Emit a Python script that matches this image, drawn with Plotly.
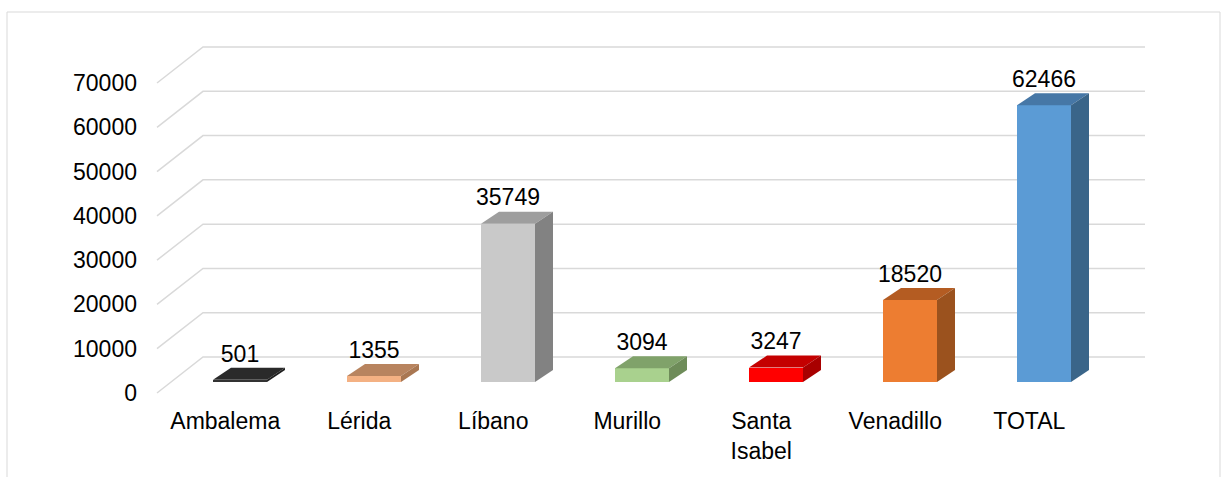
import plotly.graph_objects as go

# ---------------- data ----------------
categories = ["Ambalema", "Lérida", "Líbano", "Murillo", "Santa Isabel", "Venadillo", "TOTAL"]
tick_text = ["Ambalema", "Lérida", "Líbano", "Murillo", "Santa<br>Isabel", "Venadillo", "TOTAL"]
values = [501, 1355, 35749, 3094, 3247, 18520, 62466]
y_ticks = [0, 10000, 20000, 30000, 40000, 50000, 60000, 70000]

front_colors = ["#333333", "#F4B183", "#C9C9C9", "#A9D18E", "#FF0000", "#ED7D31", "#5B9BD5"]
top_colors = ["#2A2A2A", "#B8845F", "#9E9E9E", "#80A26A", "#C40000", "#B45C22", "#4677A6"]
side_colors = ["#1F1F1F", "#A97752", "#828282", "#6E8C59", "#A80000", "#9B521E", "#3A6589"]

# ---------------- geometry (oblique 3D projection, in axis units) ----------------
PX_PER_CAT = 134.0
PX_PER_VAL = 310.0 / 70000.0
BAR_W = 54 / PX_PER_CAT
BASE = 11 / PX_PER_VAL            # bar front face sits slightly back from the floor's front edge
DEPTH_X = 18 / PX_PER_CAT         # bar depth
DEPTH_Y = 12 / PX_PER_VAL
FLOOR_X0 = -83 / PX_PER_CAT       # front-left edge of the floor
FLOOR_DX = 46 / PX_PER_CAT        # floor depth
FLOOR_DY = 36 / PX_PER_VAL
WALL_X1 = 905 / PX_PER_CAT        # right end of back wall
LABEL_DY = 24 / PX_PER_VAL
CAT_LABEL_DX = -0.11

FONT = "Liberation Sans, Arial, sans-serif"
GRID = "#D9D9D9"

ML, MR, MT, MB = 146, 0, 0, 72
W, H = 1221, 477
plot_w = W - ML - MR
plot_h = H - MT - MB
x0 = -(240 - ML) / PX_PER_CAT
x1 = x0 + plot_w / PX_PER_CAT
y0 = -(405 - 393) / PX_PER_VAL
y1 = y0 + plot_h / PX_PER_VAL

fig = go.Figure()

# front faces
fig.add_trace(go.Bar(
    x=list(range(len(values))), y=values, base=BASE, width=BAR_W,
    marker=dict(color=front_colors, line=dict(width=0)),
    hoverinfo="skip", showlegend=False,
))

# top and side faces
for i, v in enumerate(values):
    xl, xr = i - BAR_W / 2, i + BAR_W / 2
    yb, yt = BASE, BASE + v
    fig.add_trace(go.Scatter(
        x=[xl, xr, xr + DEPTH_X, xl + DEPTH_X, xl],
        y=[yt, yt, yt + DEPTH_Y, yt + DEPTH_Y, yt],
        fill="toself", fillcolor=top_colors[i], mode="lines",
        line=dict(width=0, color=top_colors[i]), hoverinfo="skip", showlegend=False,
    ))
    fig.add_trace(go.Scatter(
        x=[xr, xr + DEPTH_X, xr + DEPTH_X, xr, xr],
        y=[yb, yb + DEPTH_Y, yt + DEPTH_Y, yt, yb],
        fill="toself", fillcolor=side_colors[i], mode="lines",
        line=dict(width=0, color=side_colors[i]), hoverinfo="skip", showlegend=False,
    ))

# data labels
fig.add_trace(go.Scatter(
    x=list(range(len(values))), y=[BASE + v + LABEL_DY for v in values],
    mode="text", text=[str(v) for v in values], textposition="middle center",
    textfont=dict(family=FONT, size=23, color="#000000"),
    hoverinfo="skip", showlegend=False,
))

# perspective gridlines (floor diagonal + back wall)
shapes = []
for t in y_ticks:
    shapes.append(dict(
        type="path", xref="x", yref="y", layer="below",
        path=f"M {FLOOR_X0},{t} L {FLOOR_X0 + FLOOR_DX},{t + FLOOR_DY} L {WALL_X1},{t + FLOOR_DY}",
        line=dict(color=GRID, width=1.5),
    ))
# chart border
shapes.append(dict(
    type="rect", xref="paper", yref="paper", layer="below",
    x0=(7 - ML) / plot_w, x1=(1220 - ML) / plot_w,
    y0=(plot_h + MT - 490) / plot_h, y1=(plot_h + MT - 12) / plot_h,
    line=dict(color=GRID, width=1), fillcolor="rgba(0,0,0,0)",
))

fig.update_layout(
    width=W, height=H,
    margin=dict(l=ML, r=MR, t=MT, b=MB),
    paper_bgcolor="white", plot_bgcolor="white",
    shapes=shapes,
    font=dict(family=FONT, size=23, color="#000000"),
    xaxis=dict(
        range=[x0, x1], showgrid=False, zeroline=False, showline=False,
        tickmode="array", tickvals=[i + CAT_LABEL_DX for i in range(len(values))],
        ticktext=tick_text, ticks="", tickfont=dict(family=FONT, size=23, color="#000000"),
    ),
    yaxis=dict(
        range=[y0, y1], showgrid=False, zeroline=False, showline=False,
        tickmode="array", tickvals=y_ticks, ticktext=[str(t) for t in y_ticks],
        ticks="", ticklabelstandoff=8,
        tickfont=dict(family=FONT, size=23, color="#000000"),
    ),
    bargap=0,
)

fig.write_html(
    "out.html",
    config={"displayModeBar": False},
    post_script="document.body.style.margin='0px';document.body.style.overflow='hidden';",
)
